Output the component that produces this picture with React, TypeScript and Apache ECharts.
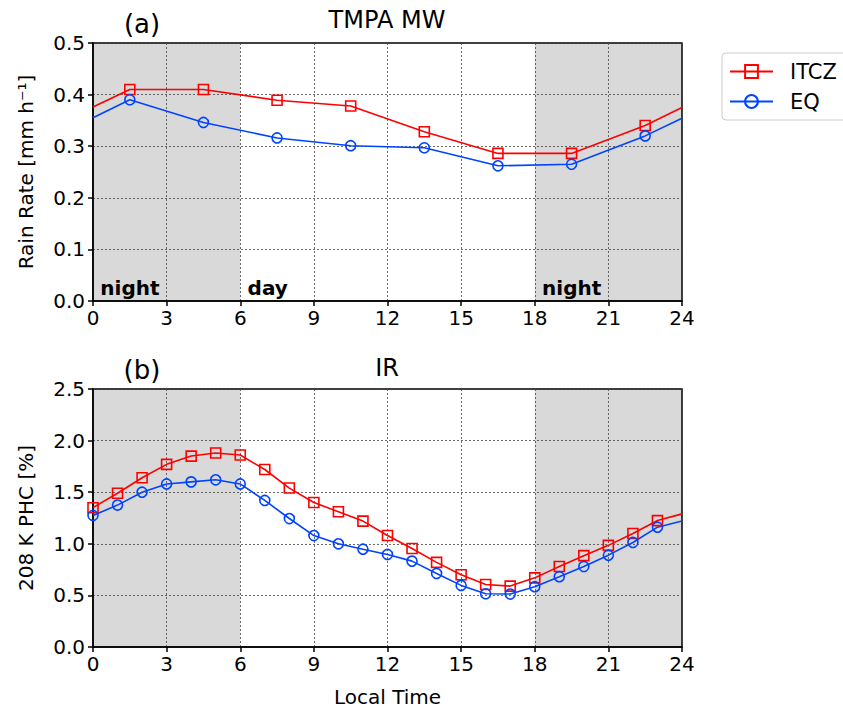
import React, { useEffect, useRef } from "react";
import * as echarts from "echarts";

// Panel (a): TMPA MW, 3-hourly
const hoursA = [0, 1.5, 4.5, 7.5, 10.5, 13.5, 16.5, 19.5, 22.5, 24];
const itczA = [0.376, 0.41, 0.41, 0.389, 0.378, 0.328, 0.286, 0.286, 0.34, 0.375];
const eqA = [0.355, 0.39, 0.346, 0.316, 0.301, 0.297, 0.262, 0.265, 0.32, 0.354];

// Panel (b): IR, hourly
const hoursB = [0, 1, 2, 3, 4, 5, 6, 7, 8, 9, 10, 11, 12, 13, 14, 15, 16, 17, 18, 19, 20, 21, 22, 23, 24];
const itczB = [1.35, 1.49, 1.64, 1.77, 1.85, 1.88, 1.86, 1.72, 1.54, 1.4, 1.31, 1.22, 1.08, 0.955, 0.82, 0.7, 0.605, 0.59, 0.67, 0.78, 0.885, 0.985, 1.1, 1.225, 1.29];
const eqB = [1.275, 1.375, 1.5, 1.58, 1.6, 1.62, 1.58, 1.42, 1.245, 1.08, 1.0, 0.948, 0.897, 0.832, 0.713, 0.597, 0.516, 0.513, 0.584, 0.681, 0.78, 0.89, 1.013, 1.161, 1.22];

const xTicks = [0, 3, 6, 9, 12, 15, 18, 21, 24];
const nightSpans = [[0, 6], [18, 24]];
const periodLabels = [
  { text: "night", x: 0.3 },
  { text: "day", x: 6.3 },
  { text: "night", x: 18.3 },
];

const FONT = "DejaVu Sans";
const RED = "#ff0000";
const BLUE = "#0044ff";

function markedData(xs: number[], ys: number[], firstMarked: number, lastMarked: number) {
  return xs.map((x, i) => {
    const item: any = { value: [x, ys[i]] };
    if (i < firstMarked || i > lastMarked) item.symbol = "none";
    return item;
  });
}

export default function App() {
  const ref = useRef<HTMLDivElement>(null);
  useEffect(() => {
    document.body.style.margin = "0";
    const chart = echarts.init(ref.current!, null, { renderer: "svg" });

    const xAxisBase = (gridIndex: number, withName: boolean) => ({
      type: "value",
      gridIndex,
      min: 0,
      max: 24,
      interval: 3,
      name: withName ? "Local Time" : "",
      nameLocation: "middle",
      nameGap: 40,
      nameTextStyle: { fontFamily: FONT, fontSize: 20, color: "#000" },
      axisLine: { show: true, onZero: false, lineStyle: { color: "#000", width: 1.5 } },
      axisTick: { show: true, length: 5, lineStyle: { color: "#000", width: 1.5 } },
      axisLabel: {
        fontFamily: FONT,
        fontSize: 20,
        color: "#000",
        margin: 7,
        customValues: xTicks,
      },
      splitLine: { show: true, lineStyle: { color: "#444", width: 0.8, type: [2, 2] } },
    });

    const yAxisBase = (gridIndex: number, max: number, interval: number, name: string) => ({
      type: "value",
      gridIndex,
      min: 0,
      max,
      interval,
      name,
      nameLocation: "middle",
      nameGap: 57,
      nameTextStyle: { fontFamily: FONT, fontSize: 20, color: "#000" },
      axisLine: { show: true, lineStyle: { color: "#000", width: 1.5 } },
      axisTick: { show: true, length: 5, lineStyle: { color: "#000", width: 1.5 } },
      axisLabel: {
        fontFamily: FONT,
        fontSize: 20,
        color: "#000",
        margin: 8,
        formatter: (v: number) => v.toFixed(1),
      },
      splitLine: { show: true, lineStyle: { color: "#444", width: 0.8, type: [2, 2] } },
    });

    const lineSeries = (name: string, color: string, symbol: string, idx: number, data: any[]) => ({
      type: "line",
      name,
      xAxisIndex: idx,
      yAxisIndex: idx,
      data,
      color,
      symbol,
      symbolSize: 10,
      showAllSymbol: true,
      lineStyle: { color, width: 1.6 },
      itemStyle: { color: "rgba(255,255,255,0)", borderColor: color, borderWidth: 1.6 },
      z: 3,
    });

    const shadeSeries = (idx: number) => ({
      type: "line",
      name: "shade" + idx,
      xAxisIndex: idx,
      yAxisIndex: idx,
      data: [],
      z: -1,
      silent: true,
      markArea: {
        silent: true,
        z: -1,
        itemStyle: { color: "#d9d9d9" },
        data: nightSpans.map(([a, b]) => [{ xAxis: a }, { xAxis: b }]),
      },
    });

    const option: any = {
      animation: false,
      backgroundColor: "#fff",
      grid: [
        { left: 93, top: 43, width: 589, height: 258, show: true, borderColor: "#000", borderWidth: 1.5, backgroundColor: "transparent", containLabel: false },
        { left: 93, top: 389, width: 589, height: 259, show: true, borderColor: "#000", borderWidth: 1.5, backgroundColor: "transparent", containLabel: false },
      ],
      xAxis: [xAxisBase(0, false), xAxisBase(1, true)],
      yAxis: [
        yAxisBase(0, 0.5, 0.1, "Rain Rate [mm h\u207B\u00B9]"),
        yAxisBase(1, 2.5, 0.5, "208 K PHC [%]"),
      ],
      legend: {
        data: [{ name: "ITCZ" }, { name: "EQ" }],
        left: 722,
        top: 53,
        orient: "vertical",
        itemWidth: 43,
        itemHeight: 16,
        itemGap: 9,
        padding: [8, 60, 8, 7],
        borderColor: "#ccc",
        borderWidth: 1,
        borderRadius: 4,
        backgroundColor: "#fff",
        textStyle: { fontFamily: FONT, fontSize: 21, color: "#000", padding: [0, 0, 0, 12] },
      },
      series: [
        shadeSeries(0),
        shadeSeries(1),
        lineSeries("ITCZ", RED, "rect", 0, markedData(hoursA, itczA, 1, 8)),
        lineSeries("EQ", BLUE, "circle", 0, markedData(hoursA, eqA, 1, 8)),
        lineSeries("ITCZ", RED, "rect", 1, markedData(hoursB, itczB, 0, 23)),
        lineSeries("EQ", BLUE, "circle", 1, markedData(hoursB, eqB, 0, 23)),
      ],
      graphic: [
        { type: "text", x: 142, y: 24, style: { text: "(a)", fontFamily: FONT, fontSize: 26, fill: "#000", textAlign: "center", textVerticalAlign: "middle" } },
        { type: "text", x: 387, y: 20, style: { text: "TMPA MW", fontFamily: FONT, fontSize: 24, fill: "#000", textAlign: "center", textVerticalAlign: "middle" } },
        { type: "text", x: 142, y: 370, style: { text: "(b)", fontFamily: FONT, fontSize: 26, fill: "#000", textAlign: "center", textVerticalAlign: "middle" } },
        { type: "text", x: 387, y: 368, style: { text: "IR", fontFamily: FONT, fontSize: 24, fill: "#000", textAlign: "center", textVerticalAlign: "middle" } },
      ],
    };
    chart.setOption(option);

    // period labels placed through the top panel's scales
    const labels = periodLabels.map((p) => {
      const pt = chart.convertToPixel({ gridIndex: 0 }, [p.x, 0]) as number[];
      return {
        type: "text",
        x: pt[0],
        y: pt[1] - 3,
        style: { text: p.text, fontFamily: FONT, fontSize: 20, fontWeight: "bold", fill: "#000", textAlign: "left", textVerticalAlign: "bottom" },
        z: 10,
      };
    });
    chart.setOption({ graphic: [...option.graphic, ...labels] });

    return () => chart.dispose();
  }, []);
  return <div ref={ref} style={{ width: 843, height: 708 }} />;
}
